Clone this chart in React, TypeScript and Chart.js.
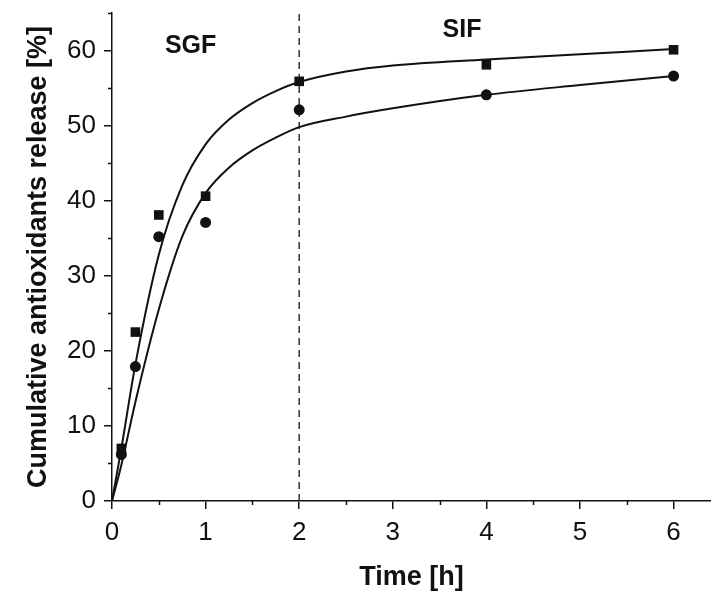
import React, { useEffect, useRef } from "react";
import { Chart, registerables } from "chart.js";

Chart.register(...registerables);

// Measured points
const squareTime = [0.1, 0.25, 0.5, 1, 2, 4, 6];
const squareRelease = [7.0, 22.5, 38.1, 40.6, 55.9, 58.1, 60.1];
const circleTime = [0.1, 0.25, 0.5, 1, 2, 4, 6];
const circleRelease = [6.2, 17.9, 35.2, 37.1, 52.1, 54.1, 56.6];

// Fitted curves
const fitTime = [0, 0.1, 0.25, 0.5, 0.75, 1, 1.25, 1.5, 1.75, 2, 2.5, 3, 4, 5, 6];
const upperFit = [0, 7.0, 18.2, 32.8, 42.0, 47.5, 50.8, 53.0, 54.6, 55.8, 57.2, 58.0, 58.8, 59.5, 60.2];
const lowerFit = [0, 4.8, 13.2, 25.5, 35.2, 41.0, 44.4, 46.7, 48.4, 49.8, 51.2, 52.3, 54.1, 55.4, 56.6];

// Axes
const xTicks = [0, 1, 2, 3, 4, 5, 6];
const xMinorTicks = [0.5, 1.5, 2.5, 3.5, 4.5, 5.5];
const yTicks = [0, 10, 20, 30, 40, 50, 60];
const yMinorTicks = [5, 15, 25, 35, 45, 55, 65];
const xMax = 6.4;
const yMax = 65;

// Phase boundary and labels
const phaseBoundary = 2;
const phaseLabels = ["SGF", "SIF"];

const FONT = '"Liberation Sans", Arial, Helvetica, sans-serif';
const INK = "#111111";

const decorPlugin = {
  id: "decor",
  afterDatasetsDraw(chart: any) {
    const { ctx, chartArea, scales } = chart;
    const x = scales.x;
    const y = scales.y;
    ctx.save();
    ctx.strokeStyle = INK;
    ctx.lineWidth = 1.5;
    ctx.beginPath();
    xMinorTicks.forEach((v) => {
      const px = Math.round(x.getPixelForValue(v)) + 0.5;
      ctx.moveTo(px, chartArea.bottom);
      ctx.lineTo(px, chartArea.bottom + 4);
    });
    yMinorTicks.forEach((v) => {
      const py = Math.round(y.getPixelForValue(v)) + 0.5;
      ctx.moveTo(chartArea.left, py);
      ctx.lineTo(chartArea.left - 4, py);
    });
    ctx.stroke();
    ctx.fillStyle = INK;
    ctx.font = `bold 25px ${FONT}`;
    ctx.textAlign = "center";
    ctx.textBaseline = "middle";
    ctx.fillText(phaseLabels[0], x.getPixelForValue(0.84), y.getPixelForValue(60.6));
    ctx.fillText(phaseLabels[1], x.getPixelForValue(3.74), y.getPixelForValue(62.7));
    ctx.restore();
  },
};

const zip = (xs: number[], ys: number[]) => xs.map((v, i) => ({ x: v, y: ys[i] }));

export default function App() {
  const canvasRef = useRef<HTMLCanvasElement | null>(null);

  useEffect(() => {
    if (!canvasRef.current) return;
    Chart.defaults.font.family = FONT;
    const chart = new Chart(canvasRef.current, {
      type: "scatter",
      data: {
        datasets: [
          {
            data: zip(squareTime, squareRelease),
            pointStyle: "rect",
            pointRadius: 6.8,
            backgroundColor: INK,
            borderColor: INK,
            borderWidth: 0,
            order: 0,
          },
          {
            data: zip(circleTime, circleRelease),
            pointStyle: "circle",
            pointRadius: 5.5,
            backgroundColor: INK,
            borderColor: INK,
            borderWidth: 0,
            order: 1,
          },
          {
            data: zip(fitTime, upperFit),
            showLine: true,
            pointRadius: 0,
            borderColor: INK,
            borderWidth: 2,
            cubicInterpolationMode: "monotone",
            fill: false,
            order: 2,
          },
          {
            data: zip(fitTime, lowerFit),
            showLine: true,
            pointRadius: 0,
            borderColor: INK,
            borderWidth: 2,
            cubicInterpolationMode: "monotone",
            fill: false,
            order: 3,
          },
          {
            data: [
              { x: phaseBoundary, y: 0 },
              { x: phaseBoundary, y: yMax },
            ],
            showLine: true,
            pointRadius: 0,
            borderColor: "#333",
            borderWidth: 1.5,
            borderDash: [7, 5],
            fill: false,
            order: 4,
          },
        ],
      },
      options: {
        animation: false,
        responsive: true,
        maintainAspectRatio: false,
        layout: { autoPadding: false, padding: { top: 13, right: 0, left: 0, bottom: 0 } },
        plugins: {
          legend: { display: false },
          tooltip: { enabled: false },
        },
        scales: {
          x: {
            type: "linear",
            min: 0,
            max: xMax,
            afterBuildTicks: (s: any) => {
              s.ticks = xTicks.map((v) => ({ value: v }));
            },
            afterFit: (s: any) => {
              s.height = 95;
              s.paddingLeft = 0;
              s.paddingRight = 0;
            },
            ticks: {
              font: { size: 26 },
              color: INK,
              padding: 8,
              maxRotation: 0,
              autoSkip: false,
            },
            grid: {
              drawOnChartArea: false,
              drawTicks: true,
              tickLength: 8,
              color: INK,
              lineWidth: 1.5,
            },
            border: { display: true, color: INK, width: 1.5 },
            title: {
              display: true,
              text: "Time [h]",
              color: INK,
              font: { size: 27, weight: "bold" },
              padding: { top: 0, bottom: 2 },
            },
          },
          y: {
            type: "linear",
            min: 0,
            max: yMax,
            afterBuildTicks: (s: any) => {
              s.ticks = yTicks.map((v) => ({ value: v }));
            },
            afterFit: (s: any) => {
              s.width = 112;
              s.paddingTop = 0;
              s.paddingBottom = 0;
            },
            ticks: {
              font: { size: 26 },
              color: INK,
              padding: 8,
              autoSkip: false,
            },
            grid: {
              drawOnChartArea: false,
              drawTicks: true,
              tickLength: 8,
              color: INK,
              lineWidth: 1.5,
            },
            border: { display: true, color: INK, width: 1.5 },
            title: {
              display: true,
              text: "Cumulative antioxidants release [%]",
              color: INK,
              font: { size: 27, weight: "bold" },
              padding: { top: 22, bottom: 0 },
            },
          },
        },
      },
      plugins: [decorPlugin],
    } as any);
    return () => chart.destroy();
  }, []);

  return (
    <div style={{ position: "absolute", left: 0, top: 0, width: 711, height: 596, background: "#fff" }}>
      <canvas ref={canvasRef} />
    </div>
  );
}
